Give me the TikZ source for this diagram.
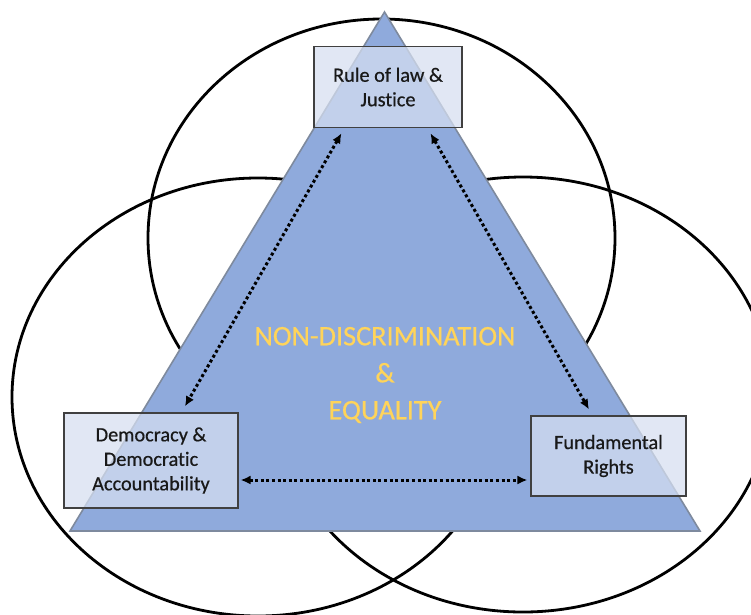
\documentclass[tikz,border=0pt]{standalone}
\usepackage{fontspec}
\setmainfont[Ligatures={NoCommon,NoDiscretionary,NoContextual},FakeBold=0.6]{Carlito}
\usetikzlibrary{arrows.meta,calc}
\definecolor{trifill}{HTML}{8FAADC}
\definecolor{triedge}{HTML}{7E8A9E}
\definecolor{boxfill}{HTML}{D6DFF1}
\definecolor{boxedge}{HTML}{404040}
\definecolor{gold}{HTML}{FFD45A}
\begin{document}
\begin{tikzpicture}[x=1pt,y=-1pt,
  ring/.style={draw=black,line width=2.8pt},
  tri/.style={fill=trifill,draw=triedge,line width=1.6pt,line join=miter},
  box/.style={draw=boxedge,line width=1.1pt,fill=boxfill,fill opacity=0.73,
    text opacity=1,text=black!90,align=center,inner sep=0pt,
    font=\fontsize{20.3}{24.5}\selectfont},
  link/.style={line width=3pt,dash pattern=on 3pt off 2.6pt,
    {Latex[length=10pt,width=9pt]}-{Latex[length=10pt,width=9pt]}},
  core/.style={text=gold,align=center,font=\fontsize{28.3}{37}\selectfont}]
\useasboundingbox (0,0) rectangle (751,614);
\fill[white] (0,0) rectangle (751,614);
% circles
\draw[ring] (381.5,238) ellipse [x radius=233.5pt, y radius=219pt];
\draw[ring] (258,397) ellipse [x radius=246pt, y radius=219pt];
\draw[ring] (523,394.5) ellipse [x radius=248pt, y radius=217.5pt];
% triangle
\coordinate (apex) at (384.5,12);
\coordinate (bl) at (70,531);
\coordinate (br) at (700,531);
\draw[tri] (apex) -- (br) -- (bl) -- cycle;
% boxes
\node[box,minimum width=148pt,minimum height=81pt] (top) at (388,87) {Rule of law \&\\Justice};
\node[box,minimum width=174pt,minimum height=95pt] (left) at (151,460.5) {Democracy \&\\Democratic\\Accountability};
\node[box,minimum width=155pt,minimum height=80pt] (right) at (608.5,456) {Fundamental\\Rights};
% connectors
\draw[link,shorten <=6pt,shorten >=7pt] ($(top.south west)+(31,0)$) -- ($(left.north west)+(118,0)$);
\draw[link,shorten <=6pt,shorten >=7pt] ($(top.south west)+(114,0)$) -- ($(right.north west)+(62,0)$);
\coordinate (hl) at ($(left.east)+(0,19.5)$);
\draw[link,shorten <=2pt,shorten >=3pt] (hl) -- (hl -| right.west);
% centre text
\node[core] (nd) at (385,375) {NON-DISCRIMINATION\\\&\\EQUALITY};
\end{tikzpicture}
\end{document}
